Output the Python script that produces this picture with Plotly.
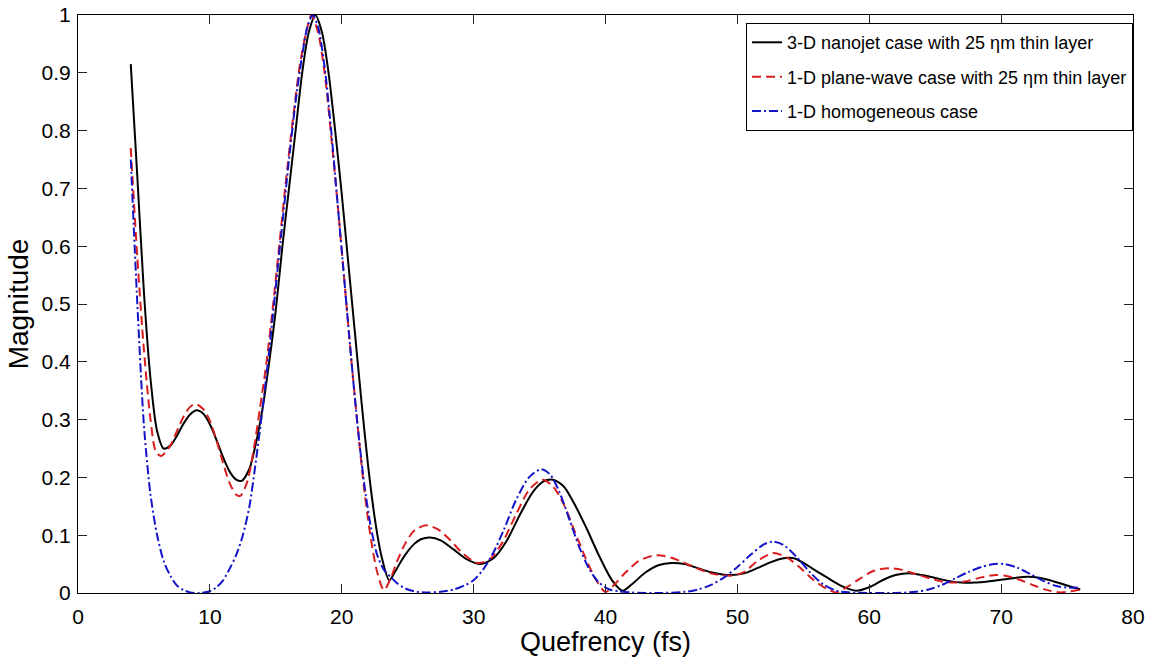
import plotly.graph_objects as go

# Quefrency samples (fs) and magnitudes for each case
nanojet_x = [4.0, 4.5, 5.0, 5.5, 6.0, 6.5, 7.0, 7.5, 8.0, 8.5, 9.0, 9.5, 10.0, 10.5, 11.0, 11.5,
             12.0, 12.4, 13.0, 13.5, 14.0, 14.5, 15.0, 15.5, 16.0, 16.5, 17.0, 17.5, 18.0, 18.5,
             19.0, 19.5, 20.0, 20.5, 21.0, 21.5, 22.0, 22.5, 23.0, 23.6, 24.0, 24.5, 25.0, 25.5,
             26.0, 26.7, 27.5, 28.5, 29.5, 30.5, 31.5, 32.5, 33.5, 34.5, 35.3, 36.0, 36.8, 37.5,
             38.5, 39.5, 40.5, 41.3, 42.0, 43.0, 44.0, 45.0, 46.0, 47.0, 48.0, 49.5, 50.5, 51.5,
             52.5, 53.5, 54.3, 55.0, 56.0, 57.0, 58.0, 59.0, 60.0, 61.0, 62.0, 63.0, 64.0, 65.0,
             66.0, 67.0, 68.0, 69.0, 70.0, 71.0, 72.0, 73.0, 74.0, 75.0, 76.0]
nanojet_y = [0.915, 0.72, 0.52, 0.37, 0.28, 0.25, 0.255, 0.272, 0.293, 0.309, 0.316, 0.31, 0.292,
             0.265, 0.235, 0.21, 0.196, 0.194, 0.215, 0.26, 0.32, 0.40, 0.49, 0.60, 0.70, 0.80,
             0.90, 0.97, 1.0, 0.97, 0.90, 0.80, 0.69, 0.57, 0.45, 0.33, 0.22, 0.13, 0.065, 0.022,
             0.035, 0.055, 0.072, 0.085, 0.093, 0.096, 0.091, 0.075, 0.058, 0.05, 0.06, 0.09,
             0.135, 0.175, 0.193, 0.196, 0.185, 0.16, 0.115, 0.065, 0.022, 0.004, 0.015, 0.035,
             0.048, 0.052, 0.05, 0.043, 0.036, 0.031, 0.034, 0.043, 0.053, 0.06, 0.06, 0.052,
             0.038, 0.024, 0.011, 0.004, 0.01, 0.022, 0.031, 0.034, 0.031, 0.026, 0.021, 0.018,
             0.018, 0.02, 0.023, 0.026, 0.028, 0.026, 0.02, 0.013, 0.006]

plane_x = [4.0, 4.5, 5.0, 5.5, 5.9, 6.3, 7.0, 7.5, 8.0, 8.5, 8.9, 9.5, 10.0, 10.5, 11.0, 11.5,
           12.0, 12.3, 12.8, 13.3, 13.8, 14.3, 14.8, 15.3, 15.8, 16.3, 16.8, 17.3, 17.7, 18.2,
           18.7, 19.2, 19.7, 20.2, 20.7, 21.2, 21.7, 22.2, 22.7, 23.2, 23.7, 24.2, 24.8, 25.5,
           26.4, 27.3, 28.2, 29.2, 30.3, 31.2, 32.2, 33.2, 34.2, 35.2, 36.0, 36.8, 37.6, 38.5,
           39.3, 40.0, 40.7, 41.5, 42.5, 43.5, 44.2, 45.0, 46.0, 47.0, 48.0, 49.5, 50.5, 51.5,
           52.7, 53.7, 54.7, 55.7, 56.7, 57.5, 58.3, 59.3, 60.3, 61.5, 62.5, 63.5, 64.5, 65.5,
           66.5, 67.5, 68.5, 69.6, 70.5, 71.5, 72.5, 73.5, 74.5, 75.3, 76.0]
plane_y = [0.77, 0.58, 0.42, 0.30, 0.245, 0.237, 0.255, 0.28, 0.305, 0.322, 0.327, 0.318, 0.298,
           0.264, 0.225, 0.19, 0.17, 0.168, 0.19, 0.245, 0.32, 0.40, 0.50, 0.61, 0.72, 0.82, 0.91,
           0.97, 1.0, 0.97, 0.90, 0.79, 0.67, 0.54, 0.41, 0.29, 0.18, 0.095, 0.035, 0.005, 0.025,
           0.055, 0.085, 0.108, 0.117, 0.11, 0.092, 0.068, 0.052, 0.058, 0.088, 0.135, 0.178,
           0.196, 0.185, 0.155, 0.11, 0.06, 0.022, 0.002, 0.015, 0.035, 0.055, 0.064, 0.065,
           0.061, 0.052, 0.042, 0.034, 0.03, 0.036, 0.055, 0.069, 0.062, 0.045, 0.024, 0.008,
           0.001, 0.01, 0.025, 0.038, 0.043, 0.04, 0.033, 0.026, 0.02, 0.018, 0.021, 0.027,
           0.031, 0.029, 0.022, 0.013, 0.005, 0.001, 0.003, 0.006]

homog_x = [4.0, 4.5, 5.0, 5.5, 6.0, 6.5, 7.0, 7.5, 8.0, 8.5, 9.2, 10.0, 10.5, 11.0, 11.5, 12.0,
           12.5, 13.0, 13.5, 14.0, 14.5, 15.0, 15.5, 16.0, 16.5, 17.0, 17.4, 17.8, 18.2, 18.7,
           19.2, 19.7, 20.2, 20.7, 21.2, 21.7, 22.2, 22.7, 23.2, 23.7, 24.2, 24.8, 25.5, 26.5,
           27.5, 28.5, 29.3, 30.0, 30.7, 31.5, 32.3, 33.2, 34.2, 35.1, 35.8, 36.5, 37.3, 38.0,
           38.8, 39.5, 40.3, 41.0, 42.0, 44.0, 46.0, 47.0, 48.0, 49.0, 50.0, 51.0, 52.0, 52.7,
           53.5, 54.5, 55.5, 56.5, 57.5, 58.5, 60.0, 62.0, 63.5, 64.5, 65.5, 66.5, 67.5, 68.5,
           69.5, 70.3, 71.2, 72.2, 73.2, 74.2, 75.2, 76.0]
homog_y = [0.75, 0.50, 0.29, 0.17, 0.10, 0.055, 0.03, 0.013, 0.005, 0.001, 0.0, 0.003, 0.01,
           0.022, 0.042, 0.066, 0.10, 0.15, 0.23, 0.32, 0.42, 0.53, 0.64, 0.75, 0.85, 0.93, 0.98,
           1.0, 0.98, 0.91, 0.80, 0.67, 0.54, 0.41, 0.29, 0.19, 0.115, 0.065, 0.04, 0.028, 0.017,
           0.008, 0.003, 0.001, 0.002, 0.006, 0.013, 0.022, 0.04, 0.07, 0.11, 0.16, 0.20, 0.214,
           0.205, 0.175, 0.125, 0.08, 0.04, 0.018, 0.006, 0.003, 0.001, 0.0, 0.002, 0.006, 0.014,
           0.027, 0.045, 0.066, 0.084, 0.089, 0.083, 0.062, 0.036, 0.015, 0.004, 0.001, 0.0, 0.0,
           0.002, 0.006, 0.014, 0.025, 0.036, 0.045, 0.05, 0.05, 0.044, 0.033, 0.021, 0.012,
           0.009, 0.01]

series_names = [
    "3-D nanojet case with 25 \u03b7m thin layer",
    "1-D plane-wave case with 25 \u03b7m thin layer",
    "1-D homogeneous case",
]

FONT = "Liberation Sans, Arial, Helvetica, sans-serif"

fig = go.Figure()
fig.add_trace(go.Scatter(
    x=nanojet_x, y=nanojet_y, mode="lines", name=series_names[0], legendgroup="a",
    line=dict(color="black", width=2, shape="spline", smoothing=0.8),
))
fig.add_trace(go.Scatter(
    x=plane_x, y=plane_y, mode="lines", name=series_names[1], legendgroup="b",
    line=dict(color="#d81e1e", width=2, dash="9px,5px", shape="spline", smoothing=0.8),
))
fig.add_trace(go.Scatter(
    x=homog_x, y=homog_y, mode="lines", name=series_names[2], legendgroup="c",
    line=dict(color="#1414c8", width=2, dash="9px,3px,2px,3px", shape="spline", smoothing=0.8),
))

axis_common = dict(
    showline=True, linecolor="black", linewidth=1, mirror="ticks",
    ticks="inside", ticklen=9, tickcolor="#222", tickwidth=1,
    showgrid=False, zeroline=False, automargin=False,
    tickfont=dict(family=FONT, size=21, color="black"),
)

fig.update_layout(
    width=1160, height=657,
    margin=dict(l=78, r=27, t=15, b=64),
    paper_bgcolor="white", plot_bgcolor="white",
    font=dict(family=FONT, color="black"),
    xaxis=dict(range=[0, 80], dtick=10, tick0=0, ticklabelstandoff=5,
               title=dict(text="Quefrency (fs)", font=dict(family=FONT, size=27), standoff=3),
               **axis_common),
    yaxis=dict(range=[0, 1], dtick=0.1, tick0=0, ticklabelstandoff=2,
               title=dict(text="Magnitude", font=dict(family=FONT, size=28), standoff=4),
               **axis_common),
    legend=dict(
        x=1.0, y=0.986, xanchor="right", yanchor="top",
        bgcolor="white", bordercolor="black", borderwidth=1,
        font=dict(family=FONT, size=18, color="black"),
        tracegroupgap=8,
    ),
    showlegend=True,
)

fig.write_html("out.html")
